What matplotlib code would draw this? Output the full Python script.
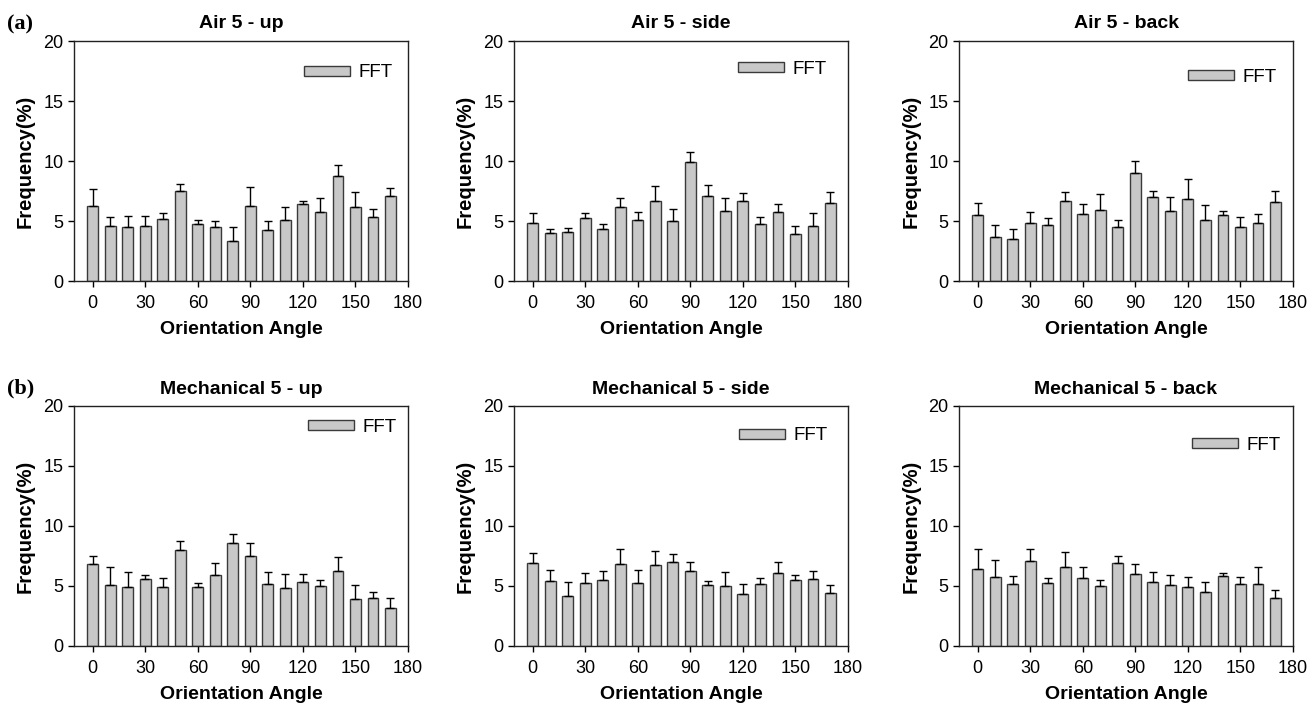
import matplotlib
matplotlib.use("Agg")
import matplotlib.pyplot as plt
import numpy as np

plt.rcParams['font.family'] = ['Liberation Sans', 'DejaVu Sans']

angles = [0, 10, 20, 30, 40, 50, 60, 70, 80, 90, 100, 110, 120, 130, 140, 150, 160, 170]
xticks = [0, 30, 60, 90, 120, 150, 180]
yticks = [0, 5, 10, 15, 20]

titles = ["Air 5 - up", "Air 5 - side", "Air 5 - back",
          "Mechanical 5 - up", "Mechanical 5 - side", "Mechanical 5 - back"]

air_up = [6.22, 4.61, 4.5, 4.56, 5.14, 7.5, 4.72, 4.53, 3.31, 6.28, 4.28, 5.11, 6.42, 5.78, 8.78, 6.14, 5.31, 7.11]
air_up_err = [1.42, 0.70, 0.89, 0.86, 0.55, 0.56, 0.39, 0.47, 1.22, 1.55, 0.72, 1.03, 0.27, 1.11, 0.86, 1.30, 0.69, 0.67]

air_side = [4.81, 3.97, 4.06, 5.22, 4.31, 6.17, 5.06, 6.67, 4.97, 9.89, 7.08, 5.86, 6.69, 4.78, 5.78, 3.92, 4.61, 6.5]
air_side_err = [0.83, 0.34, 0.36, 0.42, 0.41, 0.77, 0.66, 1.27, 1.06, 0.83, 0.89, 1.08, 0.67, 0.58, 0.61, 0.64, 1.03, 0.89]

air_back = [5.47, 3.69, 3.53, 4.86, 4.64, 6.64, 5.56, 5.89, 4.5, 8.97, 6.97, 5.86, 6.83, 5.06, 5.5, 4.5, 4.81, 6.61]
air_back_err = [1.0, 0.98, 0.8, 0.86, 0.58, 0.78, 0.86, 1.36, 0.58, 1.03, 0.53, 1.14, 1.70, 1.27, 0.36, 0.81, 0.80, 0.86]

mech_up = [6.83, 5.06, 4.94, 5.61, 4.89, 8.0, 4.89, 5.89, 8.56, 7.5, 5.19, 4.81, 5.31, 5.0, 6.25, 3.89, 4.03, 3.14]
mech_up_err = [0.67, 1.55, 1.23, 0.33, 0.80, 0.78, 0.39, 1.05, 0.80, 1.11, 1.0, 1.22, 0.72, 0.53, 1.14, 1.19, 0.44, 0.89]

mech_side = [6.89, 5.39, 4.14, 5.22, 5.47, 6.81, 5.28, 6.75, 7.0, 6.25, 5.08, 4.97, 4.31, 5.14, 6.11, 5.53, 5.61, 4.42]
mech_side_err = [0.83, 0.94, 1.17, 0.89, 0.75, 1.30, 1.08, 1.19, 0.69, 0.72, 0.36, 1.20, 0.86, 0.55, 0.89, 0.41, 0.61, 0.66]

mech_back = [6.39, 5.75, 5.19, 7.08, 5.28, 6.56, 5.64, 5.03, 6.94, 5.97, 5.31, 5.11, 4.89, 4.53, 5.81, 5.19, 5.19, 4.03]
mech_back_err = [1.72, 1.39, 0.67, 1.0, 0.36, 1.30, 0.94, 0.47, 0.56, 0.89, 0.86, 0.81, 0.89, 0.83, 0.30, 0.59, 1.39, 0.66]

series = [(air_up, air_up_err), (air_side, air_side_err), (air_back, air_back_err),
          (mech_up, mech_up_err), (mech_side, mech_side_err), (mech_back, mech_back_err)]

# layout (pixels)
W, H = 1311, 703
lefts = [74, 514, 959]
axw = 334
axh = 240
bottoms = [281, 646]
legend_pos = [(0.689, 0.867), (0.671, 0.883), (0.686, 0.85),
              (0.70, 0.9125), (0.674, 0.875), (0.698, 0.8375)]

fig = plt.figure(figsize=(W / 100, H / 100), dpi=100)

for i, (vals, errs) in enumerate(series):
    r, c = divmod(i, 3)
    ax = fig.add_axes([lefts[c] / W, (H - bottoms[r]) / H, axw / W, axh / H])
    ax.bar(angles, vals, width=6.2, color='#c8c8c8', edgecolor='#3a3a3a',
           linewidth=1.0, label='FFT', zorder=2)
    ax.errorbar(angles, vals, yerr=[np.zeros(len(errs)), errs], fmt='none',
                ecolor='black', elinewidth=1.0, capsize=3, capthick=1.0, zorder=3)
    ax.set_xlim(-10.7, 180)
    ax.set_ylim(0, 20)
    ax.set_xticks(xticks)
    ax.set_yticks(yticks)
    ax.tick_params(axis='both', labelsize=13, length=4, width=1, direction='out', colors='black')
    ax.tick_params(axis='x', pad=5.9)
    ax.tick_params(axis='y', pad=3.5)
    for s in ax.spines.values():
        s.set_linewidth(1.0)
        s.set_color('#222222')
    ax.set_title(titles[i], fontsize=14, fontweight='bold', pad=9)
    ax.set_xlabel('Orientation Angle', fontsize=14, fontweight='bold', labelpad=7)
    ax.set_ylabel('Frequency(%)', fontsize=14.5, fontweight='bold', labelpad=6)
    lx, ly = legend_pos[i]
    ax.legend(loc='center left', bbox_to_anchor=(lx, ly), frameon=False,
              fontsize=13.5, handlelength=2.44, handleheight=0.43,
              handletextpad=0.48, borderpad=0, borderaxespad=0)

fig.text(7 / W, 1 - 24 / H, '(a)', fontsize=16, fontweight='bold',
         family=['Liberation Serif', 'DejaVu Serif'], va='center', ha='left')
fig.text(7 / W, 1 - 388 / H, '(b)', fontsize=16, fontweight='bold',
         family=['Liberation Serif', 'DejaVu Serif'], va='center', ha='left')

fig.savefig('out.png', dpi=100)
